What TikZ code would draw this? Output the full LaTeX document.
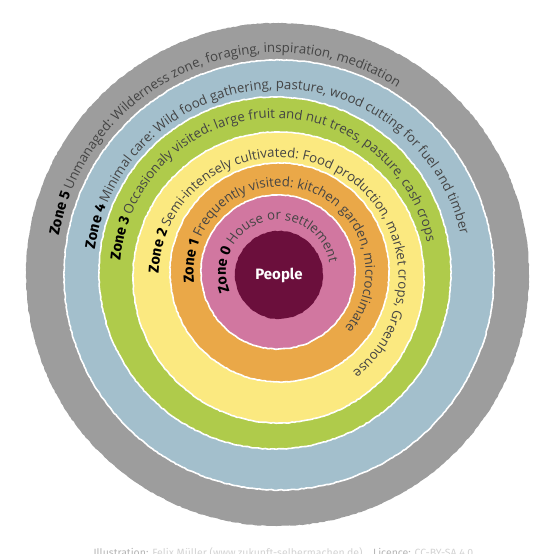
\documentclass[tikz,border=0pt]{standalone}
\usepackage{fontspec}
\setmainfont{Open Sans}
\newfontfamily\zonefamily{Fira Sans}
\usetikzlibrary{decorations.text,decorations.pathmorphing}

\definecolor{zonefive}{HTML}{9D9D9D}
\definecolor{zonefour}{HTML}{A3BFCC}
\definecolor{zonethree}{HTML}{AFCB4B}
\definecolor{zonetwo}{HTML}{FBE980}
\definecolor{zoneone}{HTML}{EAA848}
\definecolor{zonezero}{HTML}{D177A0}
\definecolor{people}{HTML}{6B0F3C}
\definecolor{desc}{HTML}{444444}
\definecolor{footlight}{HTML}{D2D2D2}
\definecolor{footdark}{HTML}{B4B4B4}

\newcommand{\zonefont}{\zonefamily\bfseries\fontsize{14.5}{14.5}\selectfont\color{black}}
\newcommand{\descfont}{\fontsize{13.25}{13.25}\selectfont\color{desc}}

\tikzstyle{ring}=[draw=white, line width=1.6pt, decorate,
  decoration={random steps, segment length=2.5pt, amplitude=0.4pt}]
\tikzstyle{ringtext}=[decorate]

\begin{document}
\begin{tikzpicture}[x=1pt, y=-1pt]
\useasboundingbox (0,0) rectangle (554,554);
% Centres
    \coordinate (c5) at (277.5,274.5);
    \coordinate (c4) at (279,275);
    \coordinate (c3) at (275,273);
    \coordinate (c2) at (278.5,277.5);
    \coordinate (c1) at (279.5,272.5);
    \coordinate (c0) at (278,272);
    \coordinate (cp) at (279,275);
% Rings
    \fill[ring, fill=zonefive, draw=none] (c5) circle[radius=251.5];
    \fill[ring, fill=zonefour] (c4) circle[radius=215];
    \fill[ring, fill=zonethree] (c3) circle[radius=176];
    \fill[ring, fill=zonetwo] (c2) circle[radius=145.5];
    \fill[ring, fill=zoneone] (c1) circle[radius=109.5];
    \fill[ring, fill=zonezero] (c0) circle[radius=77];
    \fill[ring, fill=people, draw=none] (cp) circle[radius=44];
% Labels
    \path[ringtext, decoration={text along path, text align=left,
      text={|\zonefont|Zone 5 |\descfont|Unmanaged: Wilderness zone, foraging, inspiration, meditation}}]
      ([shift={(-170:222)}]c5) arc[start angle=-170, end angle=20, radius=222];
    \path[ringtext, decoration={text along path, text align=left,
      text={|\zonefont|Zone 4 |\descfont|Minimal care: Wild food gathering, pasture, wood cutting for fuel and timber}}]
      ([shift={(-172:186)}]c4) arc[start angle=-172, end angle=40, radius=186];
    \path[ringtext, decoration={text along path, text align=left,
      text={|\zonefont|Zone 3 |\descfont|Occasionaly visited: large fruit and nut trees, pasture, cash crops}}]
      ([shift={(-175.5:155)}]c3) arc[start angle=-175.5, end angle=40, radius=155];
    \path[ringtext, decoration={text along path, text align=left,
      text={|\zonefont|Zone 2 |\descfont|Semi-intensely cultivated: Food production, market crops, Greenhouse}}]
      ([shift={(-178:120)}]c2) arc[start angle=-178, end angle=90, radius=120];
    \path[ringtext, decoration={text along path, text align=left,
      text={|\zonefont|Zone 1 |\descfont|Frequently visited: kitchen garden, microclimate}}]
      ([shift={(-187:86)}]c1) arc[start angle=-187, end angle=90, radius=86];
    \path[ringtext, decoration={text along path, text align=left,
      text={|\zonefont|Zone 0 |\descfont|House or settlement}}]
      ([shift={(-202:52)}]c0) arc[start angle=-202, end angle=60, radius=52];
% Centre and credits
    \node[text=white, font=\zonefamily\bfseries\fontsize{15}{15}\selectfont] (people) at (cp) {People};
    \node[anchor=base west, text=footlight, font=\zonefamily\fontsize{10.5}{10.5}\selectfont] (credits) at (90,556)
      {{\color{footdark}Illustration:} Felix Müller (www.zukunft-selbermachen.de)\quad{\color{footdark}Licence:} CC-BY-SA 4.0};

\end{tikzpicture}
\end{document}
